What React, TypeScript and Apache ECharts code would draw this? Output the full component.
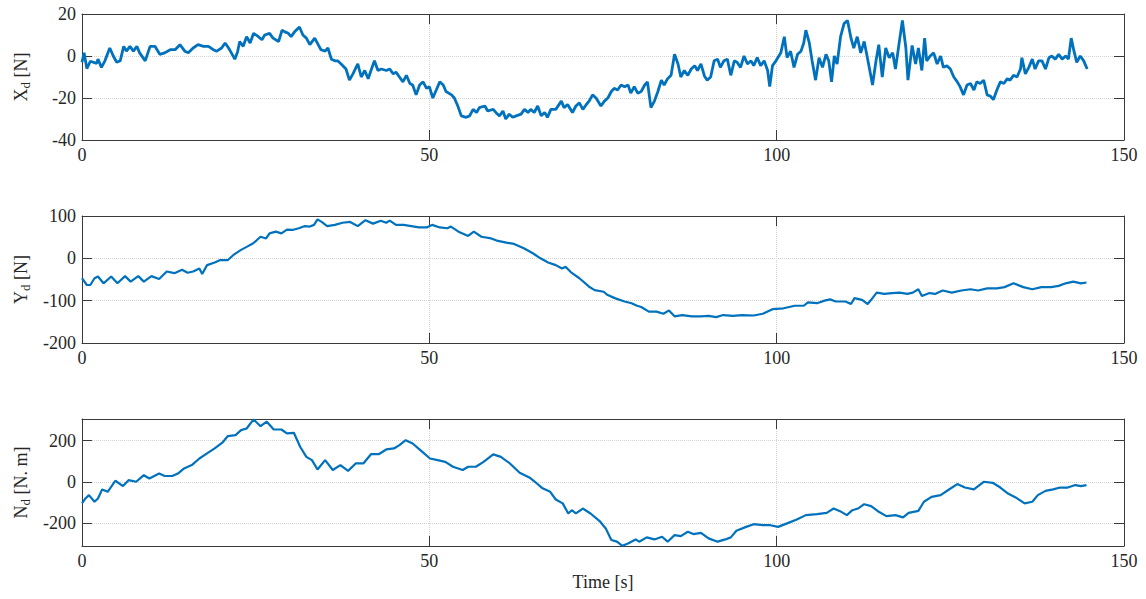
import React, { useEffect, useRef } from "react";
import * as echarts from "echarts";

// Time [s] / value samples
const xdData: [number, number][] = [
  [0,-3],[0.3,1.5],[0.7,-6],[1.2,-2.5],[2.1,-3.5],[2.3,-1.5],[2.8,-5.4],[3.3,-2.3],[4.0,3.8],[4.5,0],
  [5.0,-3],[5.5,-2.3],[6.0,4.6],[6.4,2.3],[6.9,4.6],[7.4,2.3],[7.9,4.6],[8.3,1.5],[9.1,-2.3],[9.8,4.6],
  [10.5,4.6],[11.2,0.8],[11.9,1.5],[12.7,3],[13.4,3],[14.1,5.4],[14.8,2.3],[15.3,1.5],[16.0,3.8],[16.7,5.4],
  [17.5,4.6],[18.2,4.6],[18.9,3],[19.4,2.3],[20.1,3.8],[20.6,6.2],[21.1,3.8],[21.5,1.5],[22.0,-1.5],[22.4,2],
  [22.7,6.9],[23.2,4.6],[23.7,9.2],[24.2,6.2],[24.7,10.8],[25.4,9.2],[25.9,7.7],[26.3,10],[27.0,10.8],[27.5,8.5],
  [28.3,6.9],[28.8,12.3],[29.2,11.5],[29.7,10.8],[30.1,9.2],[30.6,11.5],[31.3,13.8],[31.8,10],[32.3,8.5],[32.8,5.4],
  [33.5,8.5],[34.0,5.4],[34.4,3],[35.0,2.3],[35.4,3.8],[35.9,-1.5],[36.4,-2.3],[36.8,-2.3],[37.3,-3.8],[38.0,-6.2],
  [38.5,-11.5],[39.0,-8.5],[39.7,-3.8],[40.2,-10],[40.7,-6.9],[41.2,-10.8],[41.6,-6.9],[42.1,-2.3],[42.6,-6.9],[43.1,-6.2],
  [43.8,-6.9],[44.3,-6.2],[44.8,-8.5],[45.2,-7.7],[45.7,-10],[46.2,-12.3],[46.7,-9.2],[47.2,-13.1],[47.6,-13.8],[48.1,-18.5],
  [48.6,-13.8],[49.1,-12.3],[49.6,-15.4],[50.0,-14.6],[50.5,-20],[51.0,-16.2],[51.5,-12.3],[52.0,-13.8],[52.4,-16.9],[53.2,-18.5],
  [53.6,-20],[54.1,-23.8],[54.6,-28.5],[55.3,-29.2],[55.8,-28.5],[56.3,-25.4],[56.8,-26.9],[57.2,-24.6],[58.0,-23.8],[58.4,-26.2],
  [59.2,-25.4],[59.6,-27],[60.1,-28.5],[60.6,-26.2],[61.0,-30],[61.5,-27.7],[62.0,-29.2],[62.5,-28.5],[63.2,-27.7],[63.7,-25.4],
  [64.2,-26.9],[64.6,-25.4],[65.1,-26.9],[65.6,-23.8],[66.1,-28.5],[66.6,-26.9],[67.0,-29.2],[67.5,-25.4],[68.2,-25.4],[69.0,-21.5],
  [69.4,-24.6],[69.9,-23.1],[70.6,-26.9],[71.1,-23.8],[71.6,-22.3],[72.1,-25.4],[72.6,-23.1],[73.0,-21.5],[73.5,-18.5],[74.0,-20],
  [74.7,-23.8],[75.2,-21.5],[75.7,-20],[76.2,-16.9],[76.6,-15.4],[77.1,-16.2],[77.6,-13.8],[78.1,-14.6],[78.6,-13.8],[79.0,-17.7],
  [79.5,-14.6],[80.0,-17.7],[80.5,-16.9],[81.0,-13.8],[81.4,-12.3],[81.9,-24.6],[82.4,-21.5],[82.9,-16.9],[83.4,-11.5],[83.8,-13.8],
  [84.3,-10.8],[84.8,-9.2],[85.3,0.8],[85.8,-3.8],[86.2,-10],[86.7,-6.9],[87.2,-9.2],[87.7,-6.2],[88.2,-4.6],[88.6,-6.9],
  [89.1,-3.8],[89.6,-9.5],[90.0,-11.5],[90.5,-10],[91.0,-2.3],[91.5,-1.5],[91.9,-5.4],[92.4,-2.3],[92.9,-1.5],[93.4,-9.2],
  [93.9,-2.3],[94.3,-3],[94.8,-5.4],[95.3,0],[95.8,-3.8],[96.3,-2.3],[96.7,-4.6],[97.2,-0.8],[97.7,-4.6],[98.2,-2.3],
  [98.7,-6.9],[99.0,-14.6],[99.4,-4.6],[99.9,-2.3],[100.6,1.5],[101.1,9.2],[101.5,-0.8],[102.0,2.3],[102.5,-5.4],[103.0,0.8],
  [103.5,2.3],[103.9,6.2],[104.2,12.3],[104.7,6.2],[105.1,-2.3],[105.6,-11.5],[106.1,-0.8],[106.6,-5.4],[107.1,0.8],[107.5,-2.3],
  [107.9,-12.3],[108.3,0],[108.7,-3.8],[109.2,9.2],[109.7,15.4],[110.2,16.9],[110.7,8.5],[111.1,3.8],[111.6,9.2],[112.1,1.5],
  [112.6,6.9],[113.1,-1.5],[113.5,-8.5],[113.8,-13.8],[114.3,-2.3],[114.7,5.4],[115.2,-10],[115.7,3.8],[116.2,-0.8],[116.7,1.5],
  [117.1,-6.2],[117.6,5.4],[118.1,16.9],[118.6,3.8],[118.9,-11.5],[119.5,5],[120.0,-3.8],[120.4,3.8],[120.9,-6.9],[121.3,8.5],
  [121.6,-2.3],[122.1,0],[122.6,1.5],[123.1,-3.8],[123.6,0],[124.0,-5.4],[124.5,-4.6],[125.0,-6.2],[125.5,-10],[126.0,-12.3],
  [126.4,-14.6],[126.9,-18.5],[127.4,-13.8],[127.9,-13.1],[128.4,-16.2],[128.8,-12.3],[129.3,-13.1],[129.8,-11.5],[130.3,-18.5],[130.8,-19.2],
  [131.2,-20.8],[131.7,-16.2],[132.2,-12.3],[132.7,-13.1],[133.2,-10.8],[133.6,-11.5],[134.1,-9.2],[134.6,-10],[135.1,-6.2],[135.3,-0.8],
  [135.8,-8.5],[136.3,-5.4],[136.8,-1.5],[137.2,-6.2],[137.7,-2.3],[138.2,-2.3],[138.7,-6.2],[139.2,-0.8],[139.6,0],[140.1,-1.5],
  [140.6,0.8],[141.1,-1.5],[141.6,0],[142.0,-1.5],[142.4,8.5],[142.8,2.3],[143.2,-3],[143.7,0],[144.2,-2.3],[144.7,-6.2],
];

const ydData: [number, number][] = [
  [0,-47],[0.7,-63],[1.2,-63],[1.8,-47],[2.3,-43],[3.1,-59],[4.2,-43],[5.1,-59],[6.2,-42],[7,-55],
  [8.1,-42],[8.9,-55],[10,-42],[11.1,-49],[12.2,-31],[13.3,-35],[14.4,-27],[15.2,-34],[16,-31],[16.9,-24],
  [17.3,-37],[18,-16],[19.1,-10],[19.9,-4],[21,-4],[21.8,8],[22.9,20],[23.7,27],[24.6,35],[25.1,42],
  [25.7,51],[26.5,47],[27,59],[27.9,63],[28.7,59],[29.5,68],[30.3,67],[31.2,71],[32,76],[32.8,75],
  [33.4,79],[33.9,92],[34.5,86],[35.3,76],[36.4,79],[37.5,84],[38.6,86],[39.7,76],[40.8,90],[41.9,82],
  [43,89],[43.8,84],[44.3,89],[45.2,79],[46.3,79],[47.4,76],[48.5,73],[49.6,73],[50.4,79],[51.5,73],
  [52.6,71],[53.1,75],[54.2,63],[55.6,53],[56.4,63],[57.5,51],[58.9,47],[59.7,42],[61.1,37],[62.2,34],
  [63.6,24],[64.9,12],[66,0],[67.1,-10],[68.2,-16],[69.1,-24],[69.6,-20],[70.4,-33],[71.6,-47],[73,-67],
  [73.8,-75],[75.1,-79],[75.6,-86],[76.7,-94],[78.1,-102],[79.1,-106],[79.9,-112],[80.5,-115],[81.6,-126],[82.7,-126],
  [83.7,-131],[84.5,-123],[85.3,-137],[86.4,-134],[87.8,-137],[89.1,-137],[90.2,-136],[91.3,-139],[92.3,-134],[93.7,-136],
  [95,-134],[96.7,-135],[98,-131],[99.4,-120],[101,-118],[102.6,-112],[103.9,-112],[104.5,-104],[105.8,-106],[106.9,-100],
  [107.7,-97],[108.5,-102],[109.9,-102],[110.7,-108],[111.2,-94],[112.3,-98],[113.1,-108],[113.6,-98],[114.4,-81],[115.5,-84],
  [116.6,-82],[117.7,-81],[118.8,-84],[119.6,-81],[120.4,-73],[120.9,-89],[122,-82],[122.8,-84],[123.9,-76],[125.2,-81],
  [126.6,-76],[127.9,-73],[129,-76],[130.3,-71],[131.7,-71],[132.8,-68],[134.1,-59],[135.5,-68],[136.8,-73],[138.1,-68],
  [139.5,-68],[140.6,-65],[141.6,-59],[142.7,-55],[143.8,-59],[144.6,-57],
];

const ndData: [number, number][] = [
  [0,-105],[0.5,-81],[1,-65],[1.8,-97],[2.3,-81],[2.9,-37],[3.7,-49],[4.8,5],[5.9,-21],[6.7,8],
  [7.8,0],[8.9,32],[9.7,16],[11.1,40],[11.9,28],[13,28],[13.8,40],[14.7,65],[15.8,81],[16.9,113],
  [18,138],[19.1,162],[20.2,190],[21,222],[22.1,227],[22.9,251],[23.7,259],[24.7,303],[25.7,270],[26.6,292],
  [27.6,254],[28.7,254],[29.5,235],[30.5,238],[31.4,170],[32.3,121],[33.1,105],[33.9,60],[35,105],[36.1,57],
  [37.2,81],[38.3,53],[39.4,89],[40.5,89],[41.6,134],[42.7,134],[43.8,157],[44.9,162],[45.7,178],[46.6,202],
  [47.6,186],[48.7,154],[50.1,113],[51.2,105],[52.3,97],[53.4,73],[54.8,57],[55.6,73],[56.7,73],[57.8,97],
  [59.2,133],[60.3,121],[61.6,89],[63,44],[64.4,21],[65.2,0],[66.3,-32],[67.4,-49],[68.2,-86],[69.2,-105],
  [70,-154],[70.5,-138],[71.1,-154],[72.1,-130],[73.2,-154],[74.6,-194],[75.4,-227],[76.2,-283],[77,-291],[77.8,-311],
  [78.6,-300],[79.7,-280],[80.2,-291],[81.3,-270],[82.4,-280],[83.5,-267],[84.3,-291],[85.3,-259],[86.2,-264],[87.2,-243],
  [88,-254],[89.1,-248],[90.2,-275],[91.5,-291],[92.6,-280],[93.4,-270],[94.2,-238],[95.6,-219],[96.7,-206],[98,-211],
  [99.1,-211],[100.2,-219],[101.5,-202],[102.9,-183],[104.2,-162],[105.8,-157],[107.2,-151],[108.2,-130],[109.3,-146],[110.1,-162],
  [110.9,-138],[111.7,-130],[112.6,-109],[113.6,-118],[114.7,-146],[115.8,-167],[117.1,-162],[118.2,-173],[119,-151],[120.4,-141],
  [121.2,-97],[122.3,-73],[123.6,-65],[124.7,-40],[126,-11],[127.1,-28],[128.4,-37],[129.8,0],[131.1,-5],[132.2,-28],
  [133.3,-57],[134.4,-76],[135.7,-105],[136.8,-97],[137.6,-65],[138.7,-44],[139.8,-37],[140.8,-28],[141.9,-28],[143,-16],
  [143.8,-21],[144.6,-16],
];

const xTicks = [0, 50, 100, 150];
const ndTicks = [-200, 0, 200];

const FONT = "'Liberation Serif', 'Times New Roman', serif";
const TXT = "#262626";
const AX = "#3a3a3a";
const GRIDC = "#d4d4d4";
const LINEC = "#0072BD";

const grids = [
  { top: 14, height: 126 },
  { top: 216, height: 127 },
  { top: 419, height: 127 },
];

export default function App() {
  const ref = useRef<HTMLDivElement>(null);
  useEffect(() => {
    document.body.style.margin = "0";
    if (!ref.current) return;
    const chart = echarts.init(ref.current, null, { renderer: "svg" });

    const nameRich = {
      m: { fontSize: 18, fontFamily: FONT, color: TXT },
      s: { fontSize: 13, fontFamily: FONT, color: TXT, padding: [9, 0, 0, 0] },
    };
    const yNames = [
      "{m|X}{s|d}{m| [N]}",
      "{m|Y}{s|d}{m| [N]}",
      "{m|N}{s|d}{m| [N. m]}",
    ];
    const yRanges = [
      { min: -40, max: 20, interval: 20 },
      { min: -200, max: 100, interval: 100 },
      { min: -312, max: 305 },
    ];
    const axisLine = { show: true, onZero: false, lineStyle: { color: AX, width: 1 } };
    const tick = { show: true, inside: true, length: 10, lineStyle: { color: AX, width: 1 } };
    const split = { show: true, lineStyle: { color: GRIDC, type: "dotted", width: 1 } };
    const labelStyle = { fontFamily: FONT, fontSize: 18, color: TXT };

    const xAxes: any[] = [];
    const yAxes: any[] = [];
    grids.forEach((_, i) => {
      xAxes.push({
        type: "value", gridIndex: i, position: "bottom", min: 0, max: 150, interval: 50,
        axisLine, axisTick: tick, splitLine: split,
        axisLabel: { ...labelStyle, margin: 6, showMinLabel: true, showMaxLabel: true, customValues: xTicks },
        name: i === 2 ? "Time [s]" : "", nameLocation: "middle", nameGap: 27,
        nameTextStyle: { fontFamily: FONT, fontSize: 18, color: TXT },
      });
      xAxes.push({
        type: "value", gridIndex: i, position: "top", min: 0, max: 150, interval: 50,
        axisLine, axisTick: tick, splitLine: { show: false }, axisLabel: { show: false },
      });
      const r: any = yRanges[i];
      const custom = i === 2 ? { customValues: ndTicks } : {};
      yAxes.push({
        type: "value", gridIndex: i, position: "left", ...r,
        axisLine, axisTick: { ...tick, ...custom }, splitLine: i === 2 ? { show: false } : split,
        axisLabel: { ...labelStyle, margin: 6, showMinLabel: true, showMaxLabel: true, ...custom },
        name: yNames[i], nameLocation: "middle", nameGap: 50,
        nameTextStyle: { rich: nameRich },
      });
      yAxes.push({
        type: "value", gridIndex: i, position: "right", ...r,
        axisLine, axisTick: { ...tick, ...custom }, splitLine: { show: false }, axisLabel: { show: false },
      });
    });

    const mk = (data: [number, number][], i: number, width: number, extra: any = {}) => ({
      type: "line", xAxisIndex: i * 2, yAxisIndex: i * 2, data, showSymbol: false, symbol: "none",
      lineStyle: { color: LINEC, width }, itemStyle: { color: LINEC }, ...extra,
    });

    chart.setOption({
      animation: false,
      grid: grids.map((g) => ({ left: 82, right: 22, top: g.top, height: g.height })),
      xAxis: xAxes,
      yAxis: yAxes,
      series: [
        mk(xdData, 0, 2.8),
        mk(ydData, 1, 2.2),
        mk(ndData, 2, 2.2, {
          markLine: {
            silent: true, symbol: "none", label: { show: false },
            lineStyle: { color: GRIDC, type: "dotted", width: 1 },
            data: ndTicks.map((v) => ({ yAxis: v })),
            z: 0,
          },
        }),
      ],
    });
    return () => chart.dispose();
  }, []);
  return <div ref={ref} style={{ width: 1146, height: 599 }} />;
}
